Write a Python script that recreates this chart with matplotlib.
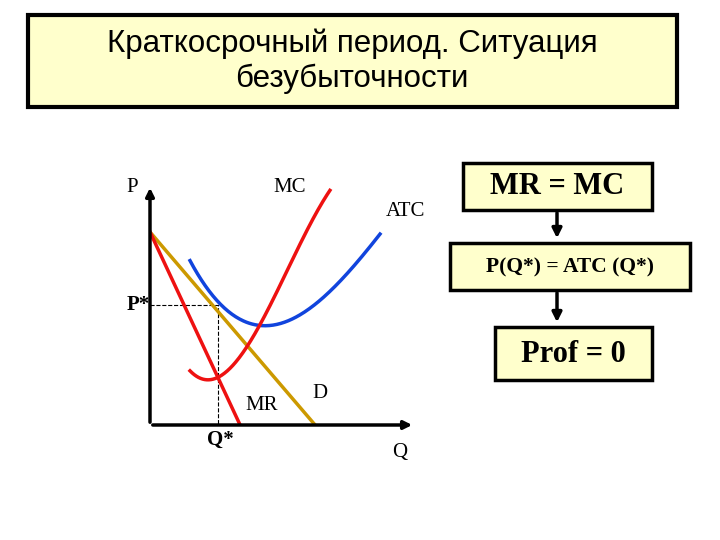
import matplotlib
matplotlib.use("Agg")
import matplotlib.pyplot as plt
import numpy as np
from matplotlib.patches import Rectangle

# ── data (Q, P in chart units) ────────────────────────────────────────────
mc_q = [15.1, 18.9, 23.4, 28.3, 34.0, 42.3, 54.7, 67.9]
mc_p = [24.4, 20.9, 19.6, 22.2, 32.4, 45.8, 75.6, 104.4]
atc_q = [15.1, 22.6, 32.1, 42.3, 52.8, 64.2, 75.5, 86.8]
atc_p = [72.4, 60.0, 48.9, 43.6, 45.8, 55.6, 69.8, 84.4]
d_q = [0.0, 62.3]
d_p = [85.8, 0.0]
mr_q = [0.0, 34.0]
mr_p = [85.8, 0.0]
q_star = 25.7
p_star = 53.3


def smooth(q, p, deg=3):
    # smooth curve through the read points, for drawing only
    c = np.polyfit(q, p, deg)
    qq = np.linspace(q[0], q[-1], 200)
    return qq, np.polyval(c, qq)


W, H = 720, 540
fig = plt.figure(figsize=(7.2, 5.4), dpi=100)
bg = fig.add_axes([0, 0, 1, 1])
bg.set_xlim(0, W)
bg.set_ylim(H, 0)
bg.axis("off")

serif = "Liberation Serif"
yellow = "#FFFFCC"

# title box
bg.add_patch(Rectangle((28, 15), 649, 92, facecolor=yellow, edgecolor="black", lw=3))
bg.text(352, 61, "Краткосрочный период. Ситуация\nбезубыточности", ha="center",
        va="center", fontsize=22.5, family="Liberation Sans", linespacing=1.2)

# right-hand boxes
bg.add_patch(Rectangle((463, 163), 189, 47, facecolor=yellow, edgecolor="black", lw=2.5))
bg.text(557, 187, "MR = MC", ha="center", va="center", fontsize=22,
        family=serif, weight="bold")
bg.add_patch(Rectangle((450, 243), 240, 47, facecolor=yellow, edgecolor="black", lw=2.5))
bg.text(570, 267, "P(Q*) = ATC (Q*)", ha="center", va="center", fontsize=15.5,
        family=serif, weight="bold")
bg.add_patch(Rectangle((495, 327), 157, 53, facecolor=yellow, edgecolor="black", lw=2.5))
bg.text(573, 354, "Prof = 0", ha="center", va="center", fontsize=22,
        family=serif, weight="bold")
for y0, y1 in [(210, 241), (290, 325)]:
    bg.annotate("", xy=(557, y1), xytext=(557, y0),
                arrowprops=dict(arrowstyle="-|>", color="black", lw=2.5, mutation_scale=14))

# chart axes
ax = fig.add_axes([150 / W, (H - 425) / H, 265 / W, 240 / H])
ax.set_xlim(0, 100)
ax.set_ylim(0, 106.7)
ax.axis("off")
ax.annotate("", xy=(0, 106.7), xytext=(0, 0),
            arrowprops=dict(arrowstyle="-|>", color="black", lw=2.5, mutation_scale=12))
ax.annotate("", xy=(100, 0), xytext=(0, 0),
            arrowprops=dict(arrowstyle="-|>", color="black", lw=2.5, mutation_scale=12))

ax.plot([0, q_star, q_star], [p_star, p_star, 0], ls="--", color="black", lw=0.8)
ax.plot(d_q, d_p, color="#CC9900", lw=2.5)
ax.plot(mr_q, mr_p, color="#EE1111", lw=2.5)
ax.plot(*smooth(atc_q, atc_p), color="#1144DD", lw=2.5)
ax.plot(*smooth(mc_q, mc_p), color="#EE1111", lw=2.5)

# labels (pixel coords)
bg.text(132, 187, "P", ha="center", va="center", fontsize=15, family=serif)
bg.text(290, 188, "MC", ha="center", va="center", fontsize=15, family=serif)
bg.text(405, 212, "ATC", ha="center", va="center", fontsize=15, family=serif)
bg.text(138, 305, "P*", ha="center", va="center", fontsize=15, family=serif, weight="bold")
bg.text(262, 405, "MR", ha="center", va="center", fontsize=15, family=serif)
bg.text(320, 393, "D", ha="center", va="center", fontsize=15, family=serif)
bg.text(220, 440, "Q*", ha="center", va="center", fontsize=15, family=serif, weight="bold")
bg.text(400, 452, "Q", ha="center", va="center", fontsize=15, family=serif)

fig.savefig("out.png", dpi=100)
